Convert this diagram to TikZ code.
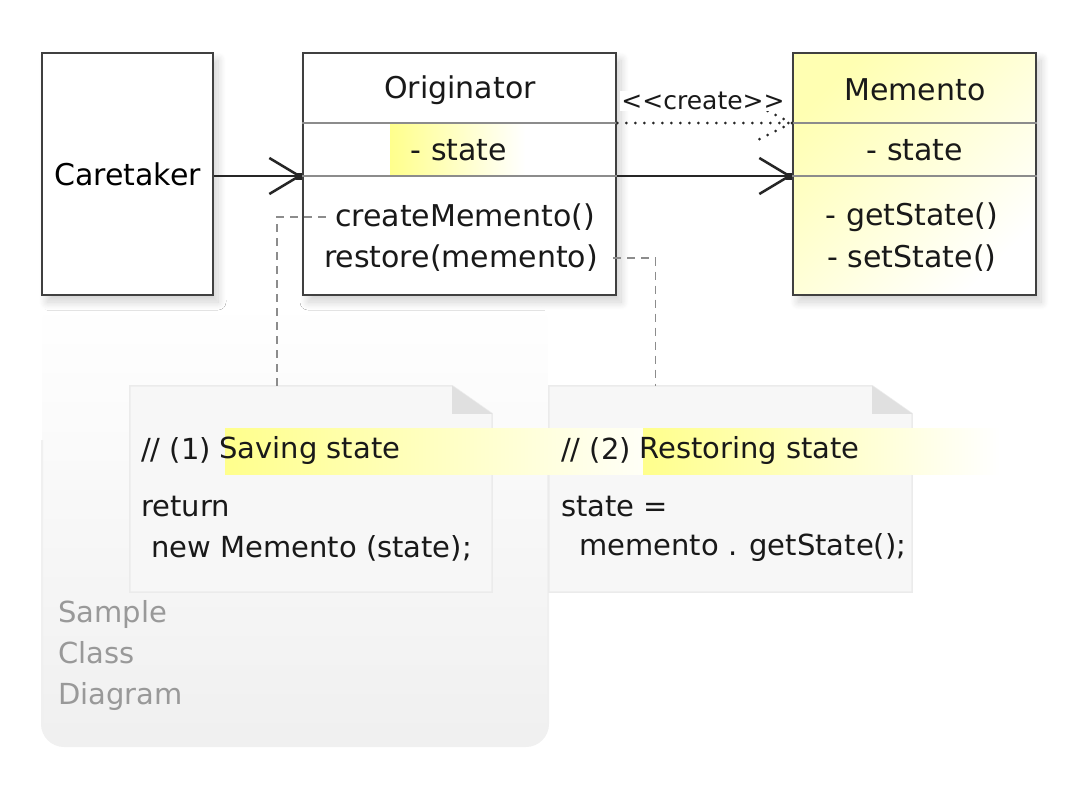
\documentclass[tikz,border=0pt]{standalone}
\usepackage{fontspec}
\setmainfont{DejaVu Sans}
\usetikzlibrary{arrows.meta, positioning, shadows.blur}

\begin{document}
\begin{tikzpicture}[x=1pt, y=-1pt,
    classbox/.style={rectangle, draw=black!75, line width=2.5pt, fill=white, minimum height=242pt, inner sep=0pt,
      font=\fontsize{30}{36}\selectfont,
      blur shadow={shadow xshift=5pt, shadow yshift=-7pt, shadow blur steps=10, shadow blur radius=8pt, shadow opacity=18}},
    member/.style={font=\fontsize{30}{36}\selectfont, text=black!90, inner sep=1pt},
    divider/.style={draw=black!45, line width=1.5pt},
    assoc/.style={draw=black!85, line width=2.5pt, -{Straight Barb[length=30pt, width=36pt, line width=2.5pt]}},
    create/.style={draw=black!85, line width=3pt, line cap=round, dash pattern=on 0pt off 9pt},
    notelink/.style={draw=black!45, line width=1.5pt, dash pattern=on 8pt off 6pt},
    noteline/.style={draw=black!8, line width=1.5pt, fill=black!3},
    fold/.style={fill=black!12},
    code/.style={font=\fontsize{29}{35}\selectfont, text=black!90, inner sep=1pt, anchor=west},
    caption/.style={font=\fontsize{29}{41}\selectfont, text=black!40, inner sep=0pt, align=left, anchor=north west}
  ]
  \useasboundingbox (0,0) rectangle (1088,792);

  % Sample frame
  \shade[rounded corners=22pt, top color=white, bottom color=black!6] (42,300) rectangle (548,746);
  \draw[rounded corners=22pt, draw=black!6, line width=2pt] (42,440) -- (42,746) -- (548,746) -- (548,440);

  % Classes
  \node[classbox, minimum width=171pt] (care) at (127.5,174) {Caretaker};
  \node[classbox, minimum width=313pt] (orig) at (459.5,174) {};
  \node[classbox, minimum width=243pt, top color=yellow!30, bottom color=white, shading angle=45] (mem) at (914.5,174) {};

  % Highlighted attribute
  \shade[left color=yellow!45, right color=white] (390,124) rectangle (525,175);

  % Compartments
  \foreach \y in {123,176} {
      \draw[divider] (orig.west |- 0,\y) -- (orig.east |- 0,\y);
      \draw[divider] (mem.west |- 0,\y) -- (mem.east |- 0,\y);
    }

  % Members
  \node[member] (origName) at (460,90) {Originator};
  \node[member] (origState) at (459,150) {- state};
  \node[member] (createM) at (465,217) {createMemento()};
  \node[member] (restoreM) at (461,258) {restore(memento)};
  \node[member] (memName) at (915,90) {Memento};
  \node[member] (memState) at (915,150) {- state};
  \node[member] (getS) at (912,217) {- getState()};
  \node[member] (setS) at (912,258) {- setState()};

  % Associations
  \coordinate (origIn) at (orig.west |- 0,176);
  \coordinate (memIn) at (mem.west |- 0,176);
  \coordinate (memTop) at (mem.west |- 0,123);
  \draw[assoc] (care.east |- origIn) -- (origIn);
  \draw[assoc] (orig.east |- memIn) -- (memIn);
  \foreach \tp in {origIn, memIn} {
      \fill[black!85] (\tp) ++(-6,-3.5) rectangle ++(6,7);
    }

  % Create dependency
  \draw[create] (orig.east |- memTop) -- (memTop);
  \draw[create] (memTop) -- ++(-36,18) (memTop) -- ++(-36,-18);
  \node[member, font=\fontsize{25}{30}\selectfont, fill=white] (createLbl) at (703,101) {<{}<create>{}>};

  % Notes
  \node[minimum width=362pt, minimum height=206pt, inner sep=0pt] (note1) at (311,489) {};
  \node[minimum width=363pt, minimum height=206pt, inner sep=0pt] (note2) at (730.5,489) {};
  \foreach \n in {note1, note2} {
      \draw[noteline] (\n.north west) -- ([xshift=-40pt]\n.north east) -- ([yshift=-28pt]\n.north east)
        -- (\n.south east) -- (\n.south west) -- cycle;
      \fill[fold] ([xshift=-40pt]\n.north east) -- ([xshift=-40pt, yshift=-28pt]\n.north east)
        -- ([yshift=-28pt]\n.north east) -- cycle;
    }
  \draw[notelink] ([xshift=-8pt]createM.west) -| ([xshift=-34pt]note1.north);
  \draw[notelink] ([xshift=14pt]restoreM.east) -| ([xshift=-75pt]note2.north);

  % Highlighted comments
  \shade[left color=yellow!45, right color=yellow!3] (225,428) rectangle (645,474);
  \shade[left color=yellow!45, right color=white] (643,428) rectangle (1000,474);

  % Note texts
  \node[code] (save1) at (140,450) {// (1)};
  \node[code, right=6pt of save1] (save2) {Saving state};
  \node[code] (save3) at (140,507) {return};
  \node[code] (save4) at (150,548) {new Memento (state);};
  \node[code] (rest1) at (560,450) {// (2)};
  \node[code, right=6pt of rest1] (rest2) {Restoring state};
  \node[code] (rest3) at (560,507) {state =};
  \node[code] (rest4) at (578,548) {memento . getState();};

  % Caption
  \node[caption] (cap) at (58,600) {Sample\\Class\\Diagram};

\end{tikzpicture}
\end{document}
